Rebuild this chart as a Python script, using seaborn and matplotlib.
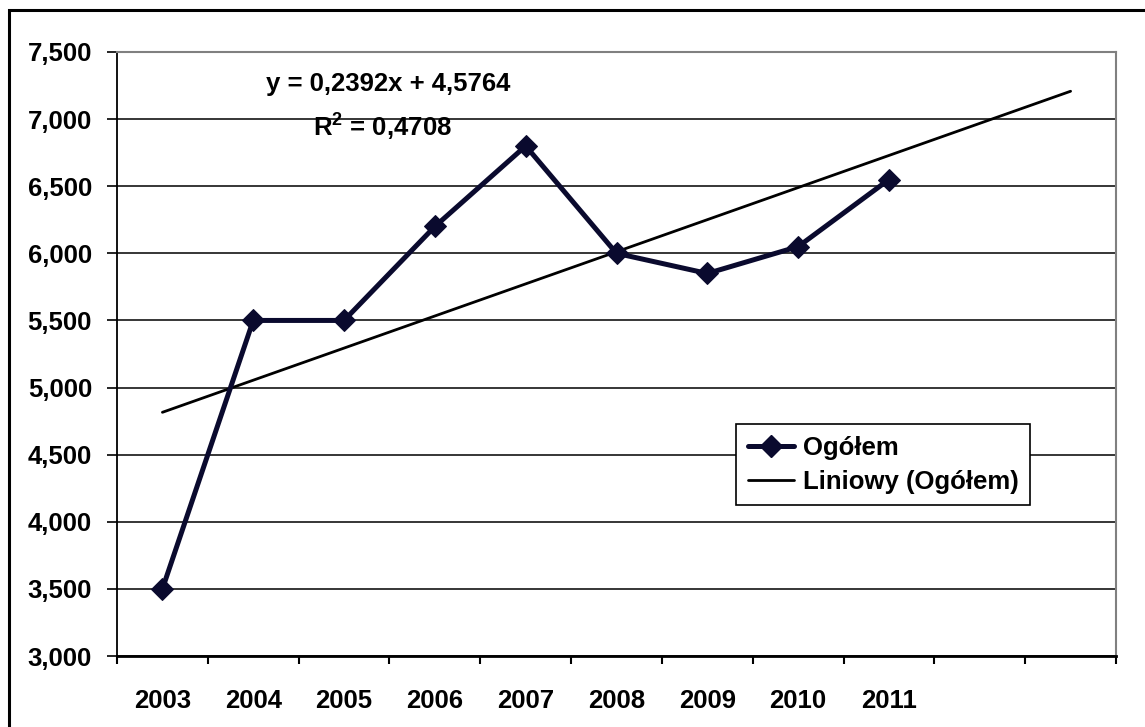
import pandas as pd
import numpy as np
import matplotlib.pyplot as plt
import seaborn as sns
from matplotlib.patches import Rectangle
from matplotlib.lines import Line2D

# data
years = ['2003', '2004', '2005', '2006', '2007', '2008', '2009', '2010', '2011']
values = [3.5, 5.5, 5.5, 6.2, 6.8, 6.0, 5.85, 6.05, 6.55]
# linear trend (Excel) and its 2-period forecast
trend_slope = 0.2392
trend_intercept = 4.5764
forecast_periods = 2
eq_label = 'y = 0,2392x + 4,5764'
r2_label = 'R$^{\\mathbf{2}}$ = 0,4708'
series_name = 'Ogółem'
trend_name = 'Liniowy (Ogółem)'
y_ticks = [3.0, 3.5, 4.0, 4.5, 5.0, 5.5, 6.0, 6.5, 7.0, 7.5]

sns.set_theme(style='white')
plt.rcParams['font.family'] = ['Liberation Sans', 'DejaVu Sans']
plt.rcParams['font.weight'] = 'bold'
plt.rcParams['mathtext.fontset'] = 'custom'
plt.rcParams['mathtext.bf'] = 'Liberation Sans:bold'
plt.rcParams['mathtext.rm'] = 'Liberation Sans:bold'
for k in ['text.color', 'xtick.color', 'ytick.color', 'axes.labelcolor']:
    plt.rcParams[k] = 'black'

FS = 18.5
W, H = 1145, 727
fig = plt.figure(figsize=(W / 100, H / 100), dpi=100)
fig.patch.set_facecolor('white')
ax = fig.add_axes([117 / W, 1 - 656 / H, (1116 - 117) / W, (656 - 52) / H])

df = pd.DataFrame({'pos': np.arange(len(years)), 'val': values})
n_slots = len(years) + forecast_periods
tx = np.arange(1, n_slots + 1)
trend = pd.DataFrame({'pos': tx - 1, 'val': trend_slope * tx + trend_intercept})

for yv in y_ticks:
    ax.axhline(yv, color='black', lw=1.1, zorder=1)

sns.lineplot(data=trend, x='pos', y='val', color='black', lw=2.0, ax=ax, zorder=3)
sns.lineplot(data=df, x='pos', y='val', color='#0a0a2e', lw=3.6, marker='D',
             markersize=11, markeredgecolor='#0a0a2e', ax=ax, zorder=4)

ax.set_xlim(-0.5, n_slots - 0.5)
ax.set_ylim(3.0, 7.5)
ax.set_xlabel('')
ax.set_ylabel('')

# x: boundary ticks, labels centred in categories
ax.set_xticks(np.arange(-0.5, n_slots, 1.0))
ax.set_xticklabels([])
ax.set_xticks(np.arange(len(years)), minor=True)
ax.set_xticklabels(years, minor=True, fontsize=FS, fontweight='bold')
ax.tick_params(axis='x', which='major', direction='out', length=6, width=1.5,
               color='black', bottom=True)
ax.tick_params(axis='x', which='minor', length=0, pad=24, bottom=True)

ax.set_yticks(y_ticks)
ax.set_yticklabels([f'{v:.3f}'.replace('.', ',') for v in y_ticks],
                   fontsize=FS, fontweight='bold')
ax.tick_params(axis='y', direction='out', length=7, width=1.2, color='black',
               pad=11, left=True)

for s in ['left', 'bottom']:
    ax.spines[s].set_color('black')
ax.spines['left'].set_linewidth(1.3)
ax.spines['bottom'].set_linewidth(2.0)
for s in ['top', 'right']:
    ax.spines[s].set_color('#808080')
    ax.spines[s].set_linewidth(1.5)

handles = [
    Line2D([], [], color='#0a0a2e', lw=3.6, marker='D', markersize=11),
    Line2D([], [], color='black', lw=2.0),
]
leg = ax.legend(handles, [series_name, trend_name], loc='upper left',
                bbox_to_anchor=((736 - 117) / 999, (656 - 424) / 604),
                borderaxespad=0, frameon=True, fancybox=False,
                prop={'size': FS, 'weight': 'bold'}, handlelength=1.8,
                handletextpad=0.35, labelspacing=0.4, borderpad=0.45,
                numpoints=1)
leg.get_frame().set_edgecolor('black')
leg.get_frame().set_linewidth(1.2)
leg.get_frame().set_alpha(1)
leg.set_zorder(6)

fig.text(388 / W, 1 - 84 / H, eq_label, ha='center', va='center',
         fontsize=FS, fontweight='bold')
fig.text(383 / W, 1 - 126 / H, r2_label, ha='center', va='center',
         fontsize=FS, fontweight='bold')

# outer chart-area frame (runs past the right and bottom of the crop)
fig.patches.append(Rectangle((9 / W, -0.05), 1.2, 1 - 10 / H + 0.05,
                             transform=fig.transFigure, fill=False,
                             edgecolor='black', lw=2.2, zorder=0))

fig.savefig('out.png', dpi=100, facecolor='white')
